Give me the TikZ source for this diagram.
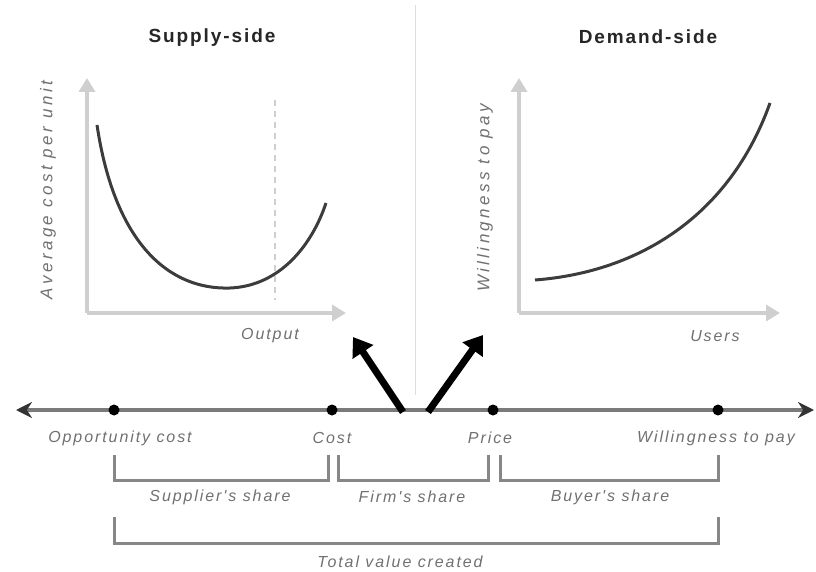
\documentclass[tikz,border=0pt]{standalone}
\usepackage{fontspec}
\setmainfont{Liberation Sans}
\newfontfamily\lblfont[LetterSpace=12]{Liberation Sans}
\newfontfamily\ylblfont[LetterSpace=20]{Liberation Sans}
\newfontfamily\ttlfont[LetterSpace=10]{Liberation Sans}
\usetikzlibrary{arrows.meta}
\definecolor{axisgray}{HTML}{CFCFCF}
\definecolor{curvegray}{HTML}{3C3C3C}
\definecolor{linegray}{HTML}{7A7A7A}
\definecolor{txtgray}{HTML}{707070}
\tikzset{
  axis/.style={draw=axisgray, line width=4.5pt, -{Triangle[length=14pt,width=16pt]}},
  curve/.style={draw=curvegray, line width=3pt},
  numline/.style={draw=linegray, line width=4.5pt, {Stealth[length=16pt,width=16pt,color=black!80]}-{Stealth[length=16pt,width=16pt,color=black!80]}},
  pt/.style={circle, fill=black, inner sep=0pt, minimum size=11pt},
  lbl/.style={text=txtgray, font=\lblfont\fontsize{16}{18}\selectfont\itshape, inner sep=1pt},
  ylbl/.style={text=txtgray, font=\ylblfont\fontsize{17}{19}\selectfont\itshape, inner sep=1pt, rotate=90},
  ttl/.style={font=\ttlfont\fontsize{19}{21}\selectfont\bfseries, text=black!85},
  brk/.style={draw=linegray!90, line width=3pt},
  bigarrow/.style={draw=black, line width=7pt, -{Triangle[length=18pt,width=24pt]}},
}
\begin{document}
\begin{tikzpicture}[x=1pt,y=-1pt]
\useasboundingbox (0,0) rectangle (816,572);
% divider
\draw[axisgray!70, line width=1pt] (415,5) -- (415,395);
% titles
\node[ttl] (tS) at (212,38) {Supply-side};
\node[ttl] (tD) at (648,37) {Demand-side};
% left plot
\coordinate (o1) at (87,313);
\coordinate (y1) at (87,78);
\coordinate (x1) at (346,313);
\draw[axis] (o1) -- (y1);
\draw[axis] (o1) -- (x1);
\draw[axisgray, line width=1.5pt, dash pattern=on 6pt off 5pt] (275,100) -- (275,300);
\draw[curve] (97,125) .. controls (115,245) and (170,290) .. (230,288) .. controls (280,286) and (312,245) .. (326,203);
\node[ylbl] (yl1) at (48,190) {Average cost per unit};
\node[lbl] (xl1) at (270,336) {Output};
% right plot
\coordinate (o2) at (519,313);
\coordinate (y2) at (519,78);
\coordinate (x2) at (780,313);
\draw[axis] (o2) -- (y2);
\draw[axis] (o2) -- (x2);
\draw[curve] (535,280) .. controls (640,272) and (730,215) .. (770,103);
\node[ylbl] (yl2) at (485,198) {Willingness to pay};
\node[lbl] (xl2) at (715,336) {Users};
% number line
\coordinate (L) at (16,410);
\coordinate (R) at (814,410);
\draw[numline] (L) -- (R);
\node[pt] (p1) at (114,410) {};
\node[pt] (p2) at (332,410) {};
\node[pt] (p3) at (493,410) {};
\node[pt] (p4) at (718,410) {};
\node[lbl] (n1) at (120,438) {Opportunity cost};
\node[lbl] (n2) at (332,438) {Cost};
\node[lbl] (n3) at (490,438) {Price};
\node[lbl] (n4) at (716,438) {Willingness to pay};
% big arrows
\coordinate (a0) at (403,412);
\coordinate (b0) at (428,412);
\draw[bigarrow] (a0) -- (353,337);
\draw[bigarrow] (b0) -- (483,335);
% brackets
\draw[brk] (114,455) |- (328,480) -- (328,455);
\draw[brk] (338,455) |- (488,480) -- (488,455);
\draw[brk] (500,455) |- (718,480) -- (718,455);
\draw[brk] (114,517) |- (718,543) -- (718,517);
\node[lbl] (s1) at (220,497) {Supplier's share};
\node[lbl] (s2) at (412,497) {Firm's share};
\node[lbl] (s3) at (610,497) {Buyer's share};
\node[lbl] (s4) at (400,562) {Total value created};
\end{tikzpicture}
\end{document}
